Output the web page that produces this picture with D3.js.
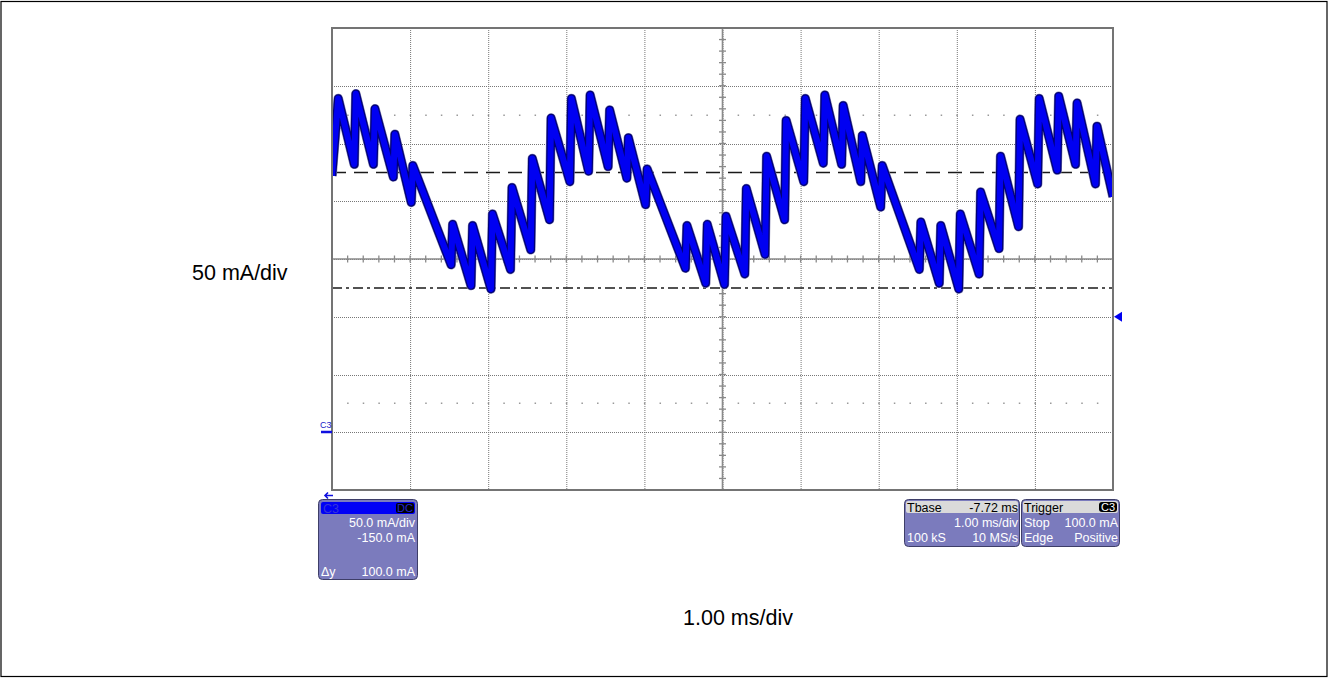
<!DOCTYPE html>
<html>
<head>
<meta charset="utf-8">
<script src="https://cdn.jsdelivr.net/npm/d3@7"></script>
<style>
  body { margin: 0; background: #fff; }
  svg { display: block; font-family: "Liberation Sans", Arial, sans-serif; }
</style>
</head>
<body>
<div id="scope"></div>
<script>
// C3 current trace: time in ms from left edge, current in mA
var timeMs = [0.00, 0.08, 0.285, 0.305, 0.53, 0.55, 0.785, 0.805, 1.015, 1.035,
              1.525, 1.545, 1.78, 1.80, 2.035, 2.055, 2.285, 2.305, 2.545, 2.565,
              2.785, 2.805, 3.045, 3.065, 3.285, 3.305, 3.535, 3.555, 3.775, 3.795,
              4.015, 4.035, 4.525, 4.545, 4.785, 4.805, 5.025, 5.045, 5.285, 5.305,
              5.545, 5.565, 5.795, 5.815, 6.04, 6.06, 6.29, 6.31, 6.525, 6.545,
              6.77, 6.79, 7.025, 7.045, 7.52, 7.54, 7.775, 7.795, 8.025, 8.045,
              8.285, 8.305, 8.54, 8.56, 8.79, 8.81, 9.035, 9.055, 9.285, 9.305,
              9.52, 9.54, 9.775, 9.795, 10.00];
var currentMa = [222, 289, 232, 293, 232, 280, 221, 258, 199, 231,
                 145, 180, 127, 179, 124, 189, 141, 212, 158, 237,
                 184, 272, 217, 289, 226, 292, 230, 279, 220, 255,
                 197, 228, 142, 179, 129, 180, 128, 187, 137, 211,
                 154, 239, 184, 270, 217, 289, 233, 292, 232, 283,
                 217, 257, 195, 231, 141, 182, 129, 179, 124, 189,
                 137, 208, 159, 239, 178, 271, 215, 289, 227, 291,
                 232, 285, 215, 265, 204];

var cursorLevels = [225, 125];      // Δy = 100.0 mA
var triggerLevel = 100;
var groundLevel = 0;
var dotRowLevels = [275, 25];

var chanLines = ["50.0 mA/div", "-150.0 mA"];
var tbaseRows = [["Tbase", "-7.72 ms"], ["", "1.00 ms/div"], ["100 kS", "10 MS/s"]];
var trigRows = [["Trigger", "C3"], ["Stop", "100.0 mA"], ["Edge", "Positive"]];

var W = 1329, H = 678;
var plot = {left: 332, right: 1113, top: 28, bottom: 490};

var x = d3.scaleLinear().domain([0, 10]).range([plot.left, plot.right]);
var y = d3.scaleLinear().domain([-50, 350]).range([plot.bottom, plot.top]);

var svg = d3.select("#scope").append("svg")
    .attr("width", W).attr("height", H);

svg.append("rect")
    .attr("x", 1).attr("y", 1.5).attr("width", W - 3).attr("height", H - 3)
    .attr("fill", "none").attr("stroke", "#000").attr("stroke-width", 1.2);

var g = svg.append("g");

// dotted graticule
g.selectAll(".vgrid").data(d3.range(1, 10)).enter().append("line")
    .attr("x1", function(d) { return x(d) + 0.5; })
    .attr("x2", function(d) { return x(d) + 0.5; })
    .attr("y1", plot.top).attr("y2", plot.bottom)
    .attr("stroke", "#777").attr("stroke-dasharray", "1,1");

g.selectAll(".hgrid").data(d3.range(0, 301, 50)).enter().append("line")
    .attr("x1", plot.left).attr("x2", plot.right)
    .attr("y1", function(d) { return Math.round(y(d)) + 0.5; })
    .attr("y2", function(d) { return Math.round(y(d)) + 0.5; })
    .attr("stroke", "#777").attr("stroke-dasharray", "1,1");

// sparse dot rows
dotRowLevels.forEach(function(lv) {
  g.selectAll(null).data(d3.range(1, 50)).enter().append("rect")
      .attr("x", function(d) { return x(d * 0.2) - 0.5; })
      .attr("y", Math.round(y(lv)) - 0.5)
      .attr("width", 1.5).attr("height", 1.5)
      .attr("fill", "#999");
});

// center axes with minor ticks
g.append("line")
    .attr("x1", plot.left).attr("x2", plot.right)
    .attr("y1", y(150)).attr("y2", y(150))
    .attr("stroke", "#8a8a8a").attr("stroke-width", 1.6);
g.append("line")
    .attr("x1", x(5)).attr("x2", x(5))
    .attr("y1", plot.top).attr("y2", plot.bottom)
    .attr("stroke", "#8a8a8a").attr("stroke-width", 1.6);

g.selectAll(".xt").data(d3.range(1, 50).map(function(i) { return i * 0.2; })).enter().append("line")
    .attr("x1", function(d) { return x(d); }).attr("x2", function(d) { return x(d); })
    .attr("y1", y(150) - 3.5).attr("y2", y(150) + 3.5)
    .attr("stroke", "#8a8a8a").attr("stroke-width", 1.3);
g.selectAll(".yt").data(d3.range(-40, 350, 10)).enter().append("line")
    .attr("x1", x(5) - 3.5).attr("x2", x(5) + 3.5)
    .attr("y1", function(d) { return y(d); }).attr("y2", function(d) { return y(d); })
    .attr("stroke", "#8a8a8a").attr("stroke-width", 1.3);

// cursors
g.append("line")
    .attr("x1", plot.left).attr("x2", plot.right)
    .attr("y1", y(cursorLevels[0])).attr("y2", y(cursorLevels[0]))
    .attr("stroke", "#1a1a1a").attr("stroke-width", 1.5)
    .attr("stroke-dasharray", "14,8");
g.append("line")
    .attr("x1", plot.left).attr("x2", plot.right)
    .attr("y1", y(cursorLevels[1])).attr("y2", y(cursorLevels[1]))
    .attr("stroke", "#1a1a1a").attr("stroke-width", 1.5)
    .attr("stroke-dasharray", "10,4,3,4");

// trace
svg.append("clipPath").attr("id", "clip").append("rect")
    .attr("x", plot.left).attr("y", plot.top)
    .attr("width", plot.right - plot.left).attr("height", plot.bottom - plot.top);

var data = timeMs.map(function(t, i) { return {t: t, v: currentMa[i]}; });
var line = d3.line()
    .x(function(d) { return x(d.t); })
    .y(function(d) { return y(d.v); });

var tr = svg.append("g").attr("clip-path", "url(#clip)");
tr.append("path").datum(data)
    .attr("fill", "none").attr("stroke", "#8080b0").attr("stroke-width", 9.5)
    .attr("stroke-linejoin", "round").attr("d", line);
tr.append("path").datum(data)
    .attr("fill", "none").attr("stroke", "#000078").attr("stroke-width", 8.5)
    .attr("stroke-linejoin", "round").attr("d", line);
tr.append("path").datum(data)
    .attr("fill", "none").attr("stroke", "#0000f2").attr("stroke-width", 6)
    .attr("stroke-linejoin", "round").attr("d", line);

// frame
svg.append("rect")
    .attr("x", plot.left).attr("y", plot.top)
    .attr("width", plot.right - plot.left).attr("height", plot.bottom - plot.top)
    .attr("fill", "none").attr("stroke", "#747474").attr("stroke-width", 2);

// ground marker
svg.append("text").attr("x", 320).attr("y", y(groundLevel) - 4)
    .attr("font-size", 9).attr("fill", "#1818c8").text("C3");
svg.append("rect").attr("x", 321).attr("y", y(groundLevel) - 1.5)
    .attr("width", 11).attr("height", 2.5).attr("fill", "#1010e0");

// trigger marker
var ty = y(triggerLevel);
svg.append("path")
    .attr("d", "M" + (plot.right + 1) + "," + ty + "L" + (plot.right + 9) + "," + (ty - 5) + "L" + (plot.right + 9) + "," + (ty + 5) + "Z")
    .attr("fill", "#0000f0");

// small arrow under the grid
svg.append("path")
    .attr("d", "M333,495.5 L325,495.5 M328,492.5 L325,495.5 L328,498.5")
    .attr("fill", "none").attr("stroke", "#1010e0").attr("stroke-width", 1.6);

// info boxes
var boxFill = "#7b7bbd", boxLine = "#3e3e68", fs = 12.5;

function box(x0, y0, w, h) {
  svg.append("rect").attr("x", x0 + 0.5).attr("y", y0 + 0.5)
      .attr("width", w).attr("height", h).attr("rx", 4)
      .attr("fill", boxFill).attr("stroke", boxLine);
}

// C3 channel box
box(318, 499, 99, 80);
svg.append("rect").attr("x", 321).attr("y", 502).attr("width", 94).attr("height", 12)
    .attr("rx", 2).attr("fill", "#0000f6");
svg.append("text").attr("x", 323).attr("y", 512.5).attr("font-size", fs)
    .attr("fill", "#3535d8").text("C3");
svg.append("rect").attr("x", 396).attr("y", 503).attr("width", 18).attr("height", 10)
    .attr("rx", 2).attr("fill", "#000");
svg.append("text").attr("x", 405).attr("y", 512).attr("font-size", fs - 1.5)
    .attr("text-anchor", "middle").attr("fill", "#2424d0").text("DC");
svg.selectAll(".ch").data(chanLines).enter().append("text")
    .attr("x", 415).attr("y", function(d, i) { return 527 + i * 15; })
    .attr("text-anchor", "end").attr("font-size", fs).attr("fill", "#fff")
    .text(function(d) { return d; });
svg.append("text").attr("x", 321).attr("y", 576).attr("font-size", fs)
    .attr("fill", "#fff").text("\u0394y");
svg.append("text").attr("x", 415).attr("y", 576).attr("font-size", fs)
    .attr("text-anchor", "end").attr("fill", "#fff")
    .text(d3.format(".1f")(cursorLevels[0] - cursorLevels[1]) + " mA");

function panel(x0, w, rows, badge) {
  box(x0, 499, w, 47);
  svg.append("rect").attr("x", x0 + 2).attr("y", 501).attr("width", w - 3).attr("height", 12)
      .attr("rx", 2).attr("fill", "#dadada");
  rows.forEach(function(r, i) {
    var by = 511.5 + i * 15;
    var head = i === 0;
    svg.append("text").attr("x", x0 + 3).attr("y", by).attr("font-size", fs)
        .attr("fill", head ? "#000" : "#fff").text(r[0]);
    if (head && badge) {
      svg.append("rect").attr("x", x0 + w - 20).attr("y", 502).attr("width", 18).attr("height", 10)
          .attr("rx", 3).attr("fill", "#000");
      svg.append("text").attr("x", x0 + w - 11).attr("y", by - 0.5).attr("font-size", fs - 1.5)
          .attr("text-anchor", "middle").attr("fill", "#fff").text(r[1]);
    } else {
      svg.append("text").attr("x", x0 + w - 1).attr("y", by).attr("font-size", fs)
          .attr("text-anchor", "end").attr("fill", head ? "#000" : "#fff").text(r[1]);
    }
  });
}
panel(904, 115, tbaseRows, false);
panel(1021, 98, trigRows, true);

// scale labels
svg.append("text").attr("x", 192).attr("y", 279.5).attr("font-size", 21.5)
    .attr("fill", "#000").text("50 mA/div");
svg.append("text").attr("x", 738).attr("y", 624.5).attr("font-size", 21.5)
    .attr("text-anchor", "middle").attr("fill", "#000").text("1.00 ms/div");
</script>
</body>
</html>
